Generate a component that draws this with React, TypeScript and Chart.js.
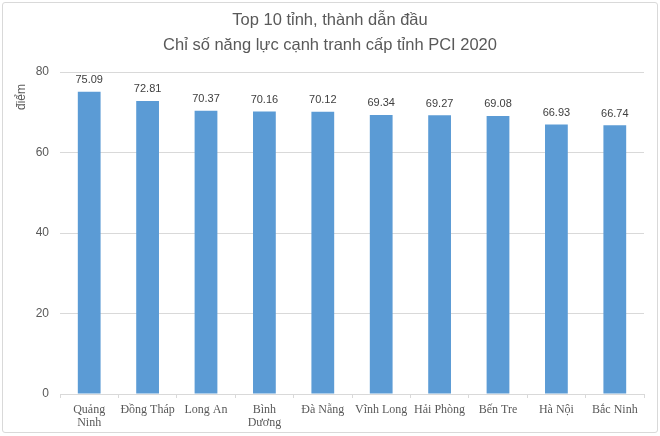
import { useRef, useEffect } from "react";
import { Chart, registerables } from "chart.js";

Chart.register(...registerables);

const provinces: (string | string[])[] = [
  ["Quảng", "Ninh"],
  "Đồng Tháp",
  "Long An",
  ["Bình", "Dương"],
  "Đà Nẵng",
  "Vĩnh Long",
  "Hải Phòng",
  "Bến Tre",
  "Hà Nội",
  "Bắc Ninh",
];
const pciScores = [75.09, 72.81, 70.37, 70.16, 70.12, 69.34, 69.27, 69.08, 66.93, 66.74];
const titleLines = ["Top 10 tỉnh, thành dẫn đầu", "Chỉ số năng lực cạnh tranh cấp tỉnh PCI 2020"];
const yAxisLabel = "điểm";

// value labels above each bar
const barValues = {
  id: "barValues",
  afterDatasetsDraw(chart: Chart) {
    const ctx = chart.ctx;
    const meta = chart.getDatasetMeta(0);
    ctx.save();
    ctx.font = '11px "Liberation Sans", Arial, sans-serif';
    ctx.fillStyle = "#404040";
    ctx.textAlign = "center";
    ctx.textBaseline = "bottom";
    meta.data.forEach((bar, i) => {
      ctx.fillText(pciScores[i].toFixed(2), bar.x, bar.y - 6);
    });
    ctx.restore();
  },
};

// title centred on the whole canvas, y title near the top of the axis
const headings = {
  id: "headings",
  afterDraw(chart: Chart) {
    const ctx = chart.ctx;
    ctx.save();
    ctx.font = '16.5px "Liberation Sans", Arial, sans-serif';
    ctx.fillStyle = "#595959";
    ctx.textAlign = "center";
    ctx.textBaseline = "middle";
    titleLines.forEach((line, i) => {
      ctx.fillText(line, chart.width / 2, 20.5 + i * 25);
    });
    ctx.translate(22, 97);
    ctx.rotate(-Math.PI / 2);
    ctx.font = '12px "Liberation Sans", Arial, sans-serif';
    ctx.fillText(yAxisLabel, 0, 0);
    ctx.restore();
  },
};

const PciChart = () => {
  const chartRef = useRef<HTMLCanvasElement | null>(null);
  const chartInstance = useRef<Chart | null>(null);

  useEffect(() => {
    if (!chartRef.current) return;
    if (chartInstance.current) {
      chartInstance.current.destroy();
    }
    const ctx = chartRef.current.getContext("2d");
    if (!ctx) return;

    chartInstance.current = new Chart(ctx, {
      type: "bar",
      data: {
        labels: provinces,
        datasets: [
          {
            data: pciScores,
            backgroundColor: "#5B9BD5",
            barPercentage: 0.78,
            categoryPercentage: 0.5,
          },
        ],
      },
      options: {
        responsive: false,
        animation: false,
        devicePixelRatio: 1,
        layout: { padding: { left: 0, right: 16, top: 72, bottom: 2 } },
        plugins: {
          legend: { display: false },
          tooltip: { enabled: false },
          title: { display: false },
        },
        scales: {
          x: {
            grid: {
              drawOnChartArea: false,
              drawTicks: true,
              tickLength: 4,
              color: "#D9D9D9",
              offset: true,
            },
            border: { color: "#D9D9D9" },
            ticks: {
              color: "#595959",
              padding: 5,
              maxRotation: 0,
              autoSkip: false,
              font: { family: '"Liberation Serif", "Times New Roman", serif', size: 12, lineHeight: "13px" },
            },
          },
          y: {
            min: 0,
            max: 80,
            afterFit(scale) {
              scale.width = 60;
            },
            grid: { color: "#D9D9D9", drawTicks: false },
            border: { display: false },
            ticks: {
              stepSize: 20,
              color: "#595959",
              padding: 11,
              font: { family: '"Liberation Sans", Arial, sans-serif', size: 12 },
            },
          },
        },
      },
      plugins: [barValues, headings],
    });

    return () => {
      if (chartInstance.current) {
        chartInstance.current.destroy();
        chartInstance.current = null;
      }
    };
  }, []);

  return (
    <div style={{ position: "fixed", left: 0, top: 0, width: 660, height: 436, background: "#fff" }}>
      <div
        style={{
          position: "absolute",
          left: 2,
          top: 2,
          width: 654,
          height: 429,
          border: "1px solid #D9D9D9",
          borderRadius: 3,
        }}
      />
      <canvas ref={chartRef} width={660} height={436} style={{ position: "absolute", left: 0, top: 0 }} />
    </div>
  );
};

export default function App() {
  return <PciChart />;
}
